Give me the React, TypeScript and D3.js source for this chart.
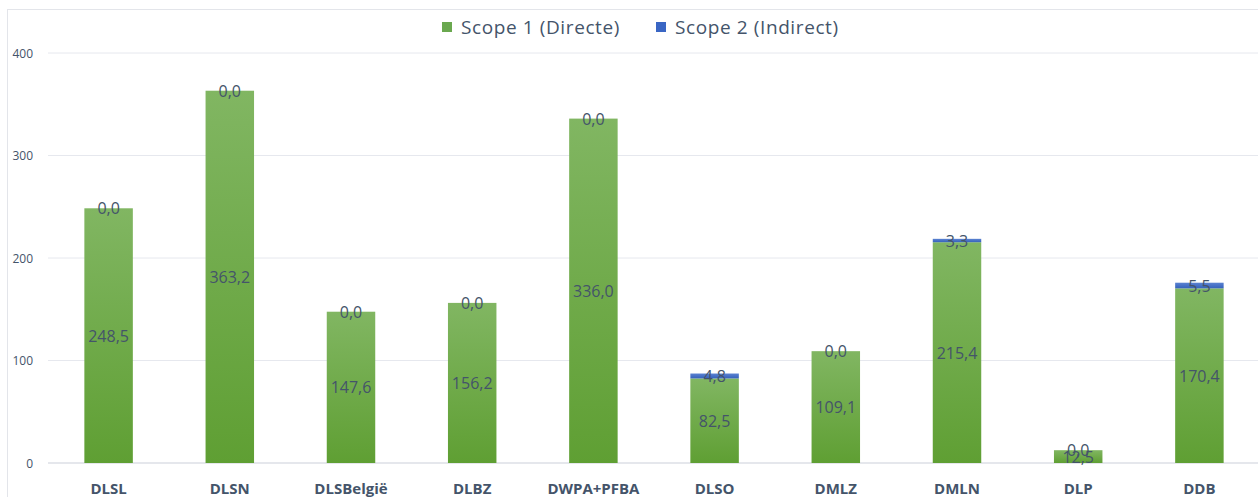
import React from "react";
import * as d3 from "d3";

const categories = ["DLSL", "DLSN", "DLSBelgië", "DLBZ", "DWPA+PFBA", "DLSO", "DMLZ", "DMLN", "DLP", "DDB"];
const scope1 = [248.5, 363.2, 147.6, 156.2, 336.0, 82.5, 109.1, 215.4, 12.5, 170.4];
const scope2 = [0.0, 0.0, 0.0, 0.0, 0.0, 4.8, 0.0, 3.3, 0.0, 5.5];
const yTicks = [0, 100, 200, 300, 400];
const seriesNames = ["Scope 1 (Directe)", "Scope 2 (Indirect)"];

const width = 1258;
const height = 497;
const font = "'Open Sans', sans-serif";
const textColor = "#44546a";

export default function App() {
  const x = d3.scaleBand().domain(categories).range([48, 1260]).paddingInner(0.6).paddingOuter(0.3);
  const y = d3.scaleLinear().domain([0, 400]).range([463, 53]);
  const fmt = (v: number) => v.toFixed(1).replace(".", ",");

  const bars = categories.map((c, i) => {
    const x0 = x(c)!;
    const bw = x.bandwidth();
    const cx = x0 + bw / 2;
    const top1 = y(scope1[i]);
    const top2 = y(scope1[i] + scope2[i]);
    return (
      <g key={c}>
        <rect x={x0} y={top1} width={bw} height={y(0) - top1} fill="url(#greenGrad)" />
        {scope2[i] > 0 && (
          <rect x={x0} y={top2} width={bw} height={top1 - top2} fill="url(#blueGrad)" />
        )}
        <text x={cx} y={(y(0) + top1) / 2} textAnchor="middle" dominantBaseline="central"
          fontSize={16} fill={textColor}>{fmt(scope1[i])}</text>
        <text x={cx} y={(top1 + top2) / 2} textAnchor="middle" dominantBaseline="central"
          fontSize={16} fill={textColor}>{fmt(scope2[i])}</text>
        <text x={cx} y={494} textAnchor="middle"
          fontSize={15} fontWeight="bold" fill={textColor}>{c}</text>
      </g>
    );
  });

  return (
    <svg width={width} height={height} style={{ position: "absolute", left: 0, top: 0, fontFamily: font }}>
      <defs>
        <linearGradient id="greenGrad" x1="0" y1="0" x2="0" y2="1">
          <stop offset="0%" stopColor="#81b662" />
          <stop offset="100%" stopColor="#5f9f33" />
        </linearGradient>
        <linearGradient id="blueGrad" x1="0" y1="0" x2="0" y2="1">
          <stop offset="0%" stopColor="#5b82d1" />
          <stop offset="100%" stopColor="#3562bb" />
        </linearGradient>
      </defs>
      <rect x={7.5} y={9.5} width={1400} height={600} fill="#fff" stroke="#e3e5ea" />
      {yTicks.map((t) => (
        <g key={t}>
          <line x1={48} x2={width} y1={y(t)} y2={y(t)} stroke={t === 0 ? "#dcdfe6" : "#e6e8ee"} strokeWidth={t === 0 ? 1.5 : 1} />
          <text x={33} y={y(t)} textAnchor="end" dominantBaseline="central" fontSize={12} fill={textColor}>{t}</text>
        </g>
      ))}
      {bars}
      <g>
        <rect x={442} y={22} width={10} height={10} fill="#6aa84f" />
        <text x={461} y={27} dominantBaseline="central" fontSize={19} letterSpacing={0.6} fill={textColor}>{seriesNames[0]}</text>
        <rect x={656} y={22} width={10} height={10} fill="#3a66c4" />
        <text x={675} y={27} dominantBaseline="central" fontSize={19} letterSpacing={0.6} fill={textColor}>{seriesNames[1]}</text>
      </g>
    </svg>
  );
}
